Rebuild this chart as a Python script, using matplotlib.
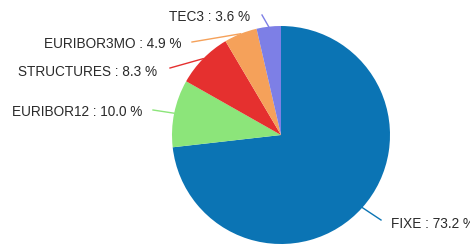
import numpy as np
import matplotlib
matplotlib.use('Agg')
import matplotlib.pyplot as plt

# data
categories = ['FIXE', 'EURIBOR12', 'STRUCTURES', 'EURIBOR3MO', 'TEC3']
shares = [73.2, 10.0, 8.3, 4.9, 3.6]
colors = ['#0b74b4', '#8ce57a', '#e5302f', '#f5a15a', '#7d7fe6']

# label layout (pixel coords, y from top): text anchor and line end
label_pos = [(391, 224), (142, 112), (157, 72), (181, 44), (250, 17)]
line_end = [(381, 220), (153, 110), (170, 68), (192, 42), (262, 15)]
label_ha = ['left', 'right', 'right', 'right', 'right']

W, H = 470, 249
cx, cy, r = 281, 135, 109

fig = plt.figure(figsize=(W / 100, H / 100), dpi=100)
ax = fig.add_axes([0, 0, 1, 1])

# y axis is flipped, so counterclock=True draws clockwise on screen
wedges, _ = ax.pie(shares, colors=colors, startangle=-90, counterclock=True,
                   center=(cx, cy), radius=r, frame=True,
                   wedgeprops=dict(linewidth=0))
ax.set_xlim(0, W)
ax.set_ylim(H, 0)
ax.axis('off')

for w, name, val, pos, end, ha, col in zip(wedges, categories, shares,
                                            label_pos, line_end, label_ha, colors):
    mid = np.deg2rad((w.theta1 + w.theta2) / 2)
    x0 = cx + r * np.cos(mid)
    y0 = cy + r * np.sin(mid)
    ax.plot([x0, end[0]], [y0, end[1]], color=col, lw=1)
    ax.text(pos[0], pos[1], f'{name} : {val:.1f} %', ha=ha, va='center',
            fontsize=9.8, family='Liberation Sans', color='#2a2a2a')

fig.savefig('out.png', dpi=100)
